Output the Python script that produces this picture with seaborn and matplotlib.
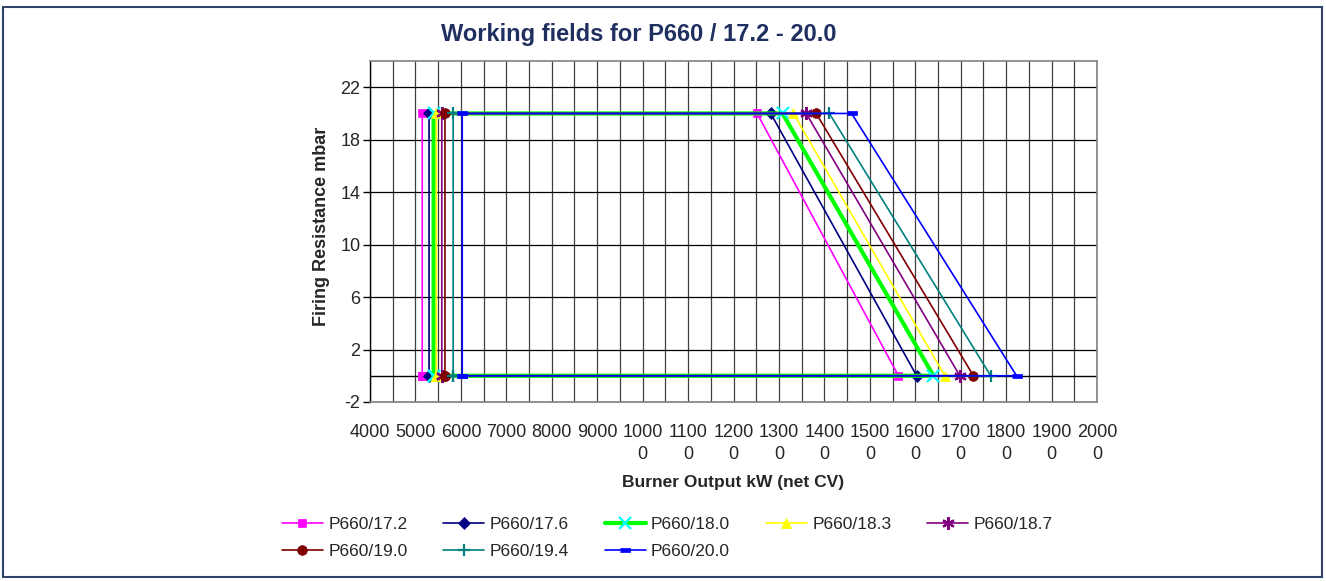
import numpy as np
import pandas as pd
import matplotlib
matplotlib.use('Agg')  # no display in the sandbox
import matplotlib.pyplot as plt
from matplotlib.patches import Rectangle
import seaborn as sns

# ------------------------------------------------------------------ #
# Data
# ------------------------------------------------------------------ #
series_names = ['P660/17.2', 'P660/17.6', 'P660/18.0', 'P660/18.3',
                'P660/18.7', 'P660/19.0', 'P660/19.4', 'P660/20.0']

# min output (left edge), max output at 20 mbar, max output at 0 mbar
min_output = [5150, 5300, 5400, 5460, 5580, 5650, 5830, 6030]
max_output_top = [12520, 12820, 13080, 13320, 13600, 13820, 14110, 14600]
max_output_bottom = [15630, 16030, 16400, 16650, 16980, 17280, 17660, 18230]

resistance_low = 0
resistance_high = 20

x_ticks = list(range(4000, 20001, 1000))
y_ticks = list(range(-2, 23, 4))

# ------------------------------------------------------------------ #
# Styles
# ------------------------------------------------------------------ #
dash_marker = [(-1, -0.4), (1, -0.4), (1, 0.4), (-1, 0.4)]
line_colors = ['#FF00FF', '#000080', '#00FF00', '#FFFF00',
               '#800080', '#800000', '#008080', '#0000FF']
marker_colors = ['#FF00FF', '#000080', '#00FFFF', '#FFFF00',
                 '#800080', '#800000', '#008080', '#0000FF']
markers = ['s', 'D', 'x', '^', (6, 2, 0), 'o', '+', dash_marker]
marker_sizes = [6, 6, 9, 7, 9, 7, 9, 7]
line_widths = [1.2, 1.2, 3.0, 1.2, 1.2, 1.2, 1.2, 1.2]

# build one closed working field per burner
rows = []
for name, lo, top, bot in zip(series_names, min_output, max_output_top, max_output_bottom):
    xs = [lo, lo, top, bot, lo]
    ys = [resistance_low, resistance_high, resistance_high, resistance_low, resistance_low]
    for i, (x, y) in enumerate(zip(xs, ys)):
        rows.append({'series': name, 'order': i, 'output': x, 'resistance': y})
df = pd.DataFrame(rows)

sns.set_style('white')
plt.rcParams['font.family'] = ['Liberation Sans', 'DejaVu Sans']
plt.rcParams['axes.unicode_minus'] = False

W, H = 1326, 581
fig = plt.figure(figsize=(W / 100, H / 100), dpi=100)
ax = fig.add_axes([370 / W, 1 - 402 / H, 727 / W, 341 / H])

handles = []
for name, lc, mc, mk, ms, lw in zip(series_names, line_colors, marker_colors,
                                    markers, marker_sizes, line_widths):
    sub = df[df['series'] == name]
    sns.lineplot(data=sub, x='output', y='resistance', ax=ax, sort=False,
                 estimator=None, color=lc, linewidth=lw, marker=mk,
                 markersize=ms, markerfacecolor=mc, markeredgecolor=mc,
                 markeredgewidth=1.6 if mk in ('x', '+') or isinstance(mk, tuple) else 0.5,
                 legend=False, zorder=3)
    handles.append(ax.lines[-1])

# axes, grid, ticks
ax.set_xlim(4000, 20000)
ax.set_ylim(-2, 24)
ax.set_xticks(x_ticks)
ax.set_xticklabels([str(v) if v < 10000 else str(v)[:4] + '\n' + str(v)[4:] for v in x_ticks],
                   linespacing=1.45)
ax.set_xticks(np.arange(4500, 20000, 1000), minor=True)
ax.set_yticks(y_ticks)

ax.grid(which='both', axis='x', color='#404040', linewidth=0.9)
ax.grid(which='major', axis='y', color='black', linewidth=0.9)
ax.axhline(0, color='black', linewidth=1.0, zorder=2)

for side in ['top', 'right', 'bottom']:
    ax.spines[side].set_color('#808080')
    ax.spines[side].set_linewidth(1.2)
ax.spines['left'].set_color('black')
ax.spines['left'].set_linewidth(1.0)

ax.tick_params(axis='x', which='both', length=0, pad=15.5, labelsize=13)
ax.tick_params(axis='y', length=5, width=1, direction='out', color='black',
               pad=2, labelsize=13, left=True)
ax.set_xlabel('')
ax.set_ylabel('')

fig.text(733 / W, 1 - 482 / H, 'Burner Output kW (net CV)', ha='center', va='center',
         fontsize=12.5, fontweight='bold')
fig.text(322 / W, 1 - 226 / H, 'Firing Resistance mbar', ha='center', va='center',
         rotation=90, fontsize=13, fontweight='bold')
fig.text(639 / W, 1 - 35 / H, 'Working fields for P660 / 17.2 - 20.0', ha='center',
         va='center', fontsize=17, fontweight='bold', color='#1F2F5F')

# matplotlib fills legend columns first: reorder so rows read left to right
order = [0, 5, 1, 6, 2, 7, 3, 4]
fig.legend([handles[i] for i in order], [series_names[i] for i in order],
           loc='upper left', ncol=5, bbox_to_anchor=(282 / W, 1 - 517 / H),
           frameon=False, borderaxespad=0, borderpad=0, fontsize=12.5,
           handlelength=2.36, handletextpad=0.3, columnspacing=2.07,
           labelspacing=0.7)

fig.patches.append(Rectangle((3 / W, 4 / H), 1319 / W, 570 / H, transform=fig.transFigure,
                             fill=False, edgecolor='#2F4468', linewidth=1.5))

fig.savefig('out.png', dpi=100)
